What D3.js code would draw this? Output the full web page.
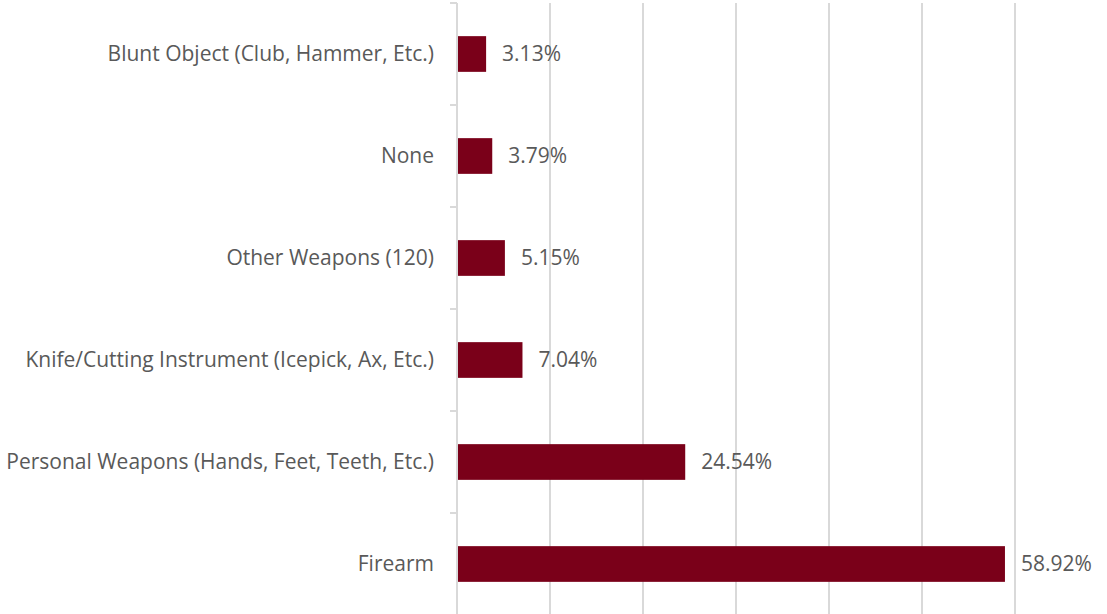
<!DOCTYPE html>
<html>
<head>
<meta charset="utf-8">
<script src="https://cdn.jsdelivr.net/npm/d3@7"></script>
<style>
    body { margin: 0; background: #ffffff; }
    .label { font-family: "Open Sans", sans-serif; font-size: 21px; fill: #595959; }
</style>
</head>
<body>
<div id="chart"></div>
<script>
// Weapon types, top to bottom as drawn
const categories = [
    "Blunt Object (Club, Hammer, Etc.)",
    "None",
    "Other Weapons (120)",
    "Knife/Cutting Instrument (Icepick, Ax, Etc.)",
    "Personal Weapons (Hands, Feet, Teeth, Etc.)",
    "Firearm"
];
const percentages = [3.13, 3.79, 5.15, 7.04, 24.54, 58.92];
const gridTicks = [0, 10, 20, 30, 40, 50, 60];

const width = 1107, height = 614;
const margin = {top: 3, left: 457};
const plotW = 558, plotH = 612;

const svg = d3.select("#chart").append("svg")
    .attr("width", width)
    .attr("height", height);

const g = svg.append("g")
    .attr("transform", `translate(${margin.left}, ${margin.top})`);

const x = d3.scaleLinear().domain([0, 60]).range([0, plotW]);
const y = d3.scaleBand().domain(categories).range([0, plotH]).paddingInner(0.65).paddingOuter(0.325);

// Vertical gridlines
g.selectAll(".grid")
    .data(gridTicks.slice(1))
    .enter().append("line")
    .attr("class", "grid")
    .attr("x1", d => x(d)).attr("x2", d => x(d))
    .attr("y1", 0).attr("y2", height)
    .attr("stroke", "#d9d9d9")
    .attr("stroke-width", 2);

// Category axis line and band-boundary ticks
g.append("line")
    .attr("x1", 0).attr("x2", 0)
    .attr("y1", 0).attr("y2", height)
    .attr("stroke", "#d9d9d9")
    .attr("stroke-width", 2);

const step = y.step();
g.selectAll(".tick-mark")
    .data(d3.range(categories.length + 1))
    .enter().append("line")
    .attr("class", "tick-mark")
    .attr("x1", -7).attr("x2", 0)
    .attr("y1", i => i * step).attr("y2", i => i * step)
    .attr("stroke", "#d9d9d9")
    .attr("stroke-width", 2);

// Bars
g.selectAll(".bar")
    .data(percentages)
    .enter().append("rect")
    .attr("class", "bar")
    .attr("x", 1)
    .attr("y", (d, i) => y(categories[i]))
    .attr("width", d => x(d) - 1)
    .attr("height", y.bandwidth())
    .attr("fill", "#7a0019");

// Category labels
g.selectAll(".cat-label")
    .data(categories)
    .enter().append("text")
    .attr("class", "label")
    .attr("x", -23)
    .attr("y", d => y(d) + y.bandwidth() / 2)
    .attr("dy", "0.35em")
    .attr("text-anchor", "end")
    .text(d => d);

// Value labels
g.selectAll(".val-label")
    .data(percentages)
    .enter().append("text")
    .attr("class", "label")
    .attr("x", d => x(d) + 16)
    .attr("y", (d, i) => y(categories[i]) + y.bandwidth() / 2)
    .attr("dy", "0.35em")
    .text(d => d.toFixed(2) + "%");
</script>
</body>
</html>
